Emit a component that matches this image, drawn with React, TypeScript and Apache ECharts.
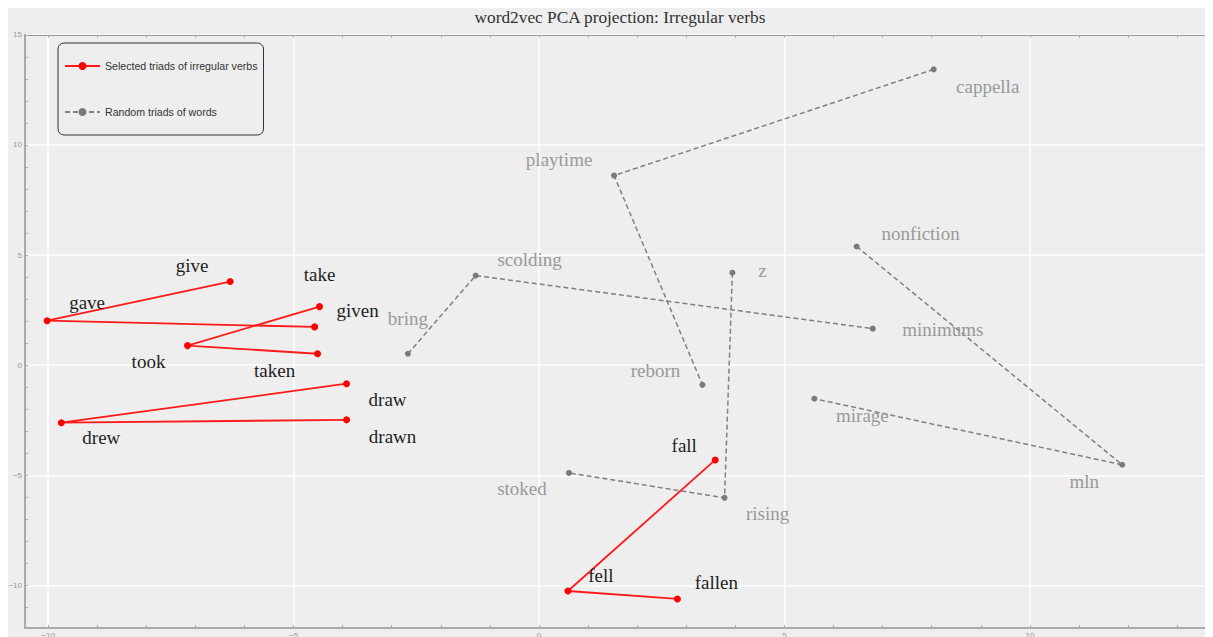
import React, { useEffect, useRef } from "react";
import * as echarts from "echarts";

const TITLE = "word2vec PCA projection: Irregular verbs";
const RED_NAME = "Selected triads of irregular verbs";
const GRAY_NAME = "Random triads of words";

// Selected triads of irregular verbs (drawn in listed order)
const verbWords = [
  ["give", "gave", "given"],
  ["take", "took", "taken"],
  ["draw", "drew", "drawn"],
  ["fall", "fell", "fallen"],
];
const verbX = [
  [-6.29, -10.02, -4.57],
  [-4.47, -7.16, -4.51],
  [-3.92, -9.73, -3.92],
  [3.59, 0.59, 2.82],
];
const verbY = [
  [3.8, 2.02, 1.74],
  [2.66, 0.89, 0.52],
  [-0.84, -2.61, -2.48],
  [-4.3, -10.25, -10.61],
];

// Random triads of words
const randomWords = [
  ["cappella", "playtime", "reborn"],
  ["bring", "scolding", "minimums"],
  ["z", "rising", "stoked"],
  ["nonfiction", "mln", "mirage"],
];
const randomX = [
  [8.04, 1.53, 3.33],
  [-2.67, -1.29, 6.8],
  [3.94, 3.78, 0.61],
  [6.47, 11.88, 5.61],
];
const randomY = [
  [13.43, 8.61, -0.89],
  [0.52, 4.07, 1.66],
  [4.2, -6.02, -4.89],
  [5.39, -4.52, -1.52],
];

// label placement (pixel offsets of label centre from its point)
const verbLabelOffsets = [
  [[-38, -16], [40, -18], [43, -16]],
  [[0, -32], [-39, 16], [-43, 17]],
  [[41, 16], [40, 15], [46, 17]],
  [[-31, -14], [33, -15], [39, -16]],
];
const randomLabelOffsets = [
  [[54, 17], [-55, -16], [-47, -14]],
  [[0, -35], [54, -16], [70, 1]],
  [[30, -2], [43, 16], [-47, 16]],
  [[64, -13], [-38, 17], [48, 17]],
];

const X_MIN = -10.47;
const X_MAX = 13.73;
const Y_MIN = -11.93;
const Y_MAX = 15;
const xMajorTicks = [-10, -5, 0, 5, 10];
const yMajorTicks = [-10, -5, 0, 5, 10, 15];
const xMinorTicks = [-10, -9, -8, -7, -6, -5, -4, -3, -2, -1, 0, 1, 2, 3, 4, 5, 6, 7, 8, 9, 10, 11, 12, 13];
const yMinorTicks = [-11, -10, -9, -8, -7, -6, -5, -4, -3, -2, -1, 0, 1, 2, 3, 4, 5, 6, 7, 8, 9, 10, 11, 12, 13, 14, 15];

const fmt = (v: number) => (v < 0 ? "\u2212" + Math.abs(v) : String(v));

const AXIS_COLOR = "#aaaaaa";
const TICK_LABEL = { color: "#999999", fontSize: 8, fontFamily: "Liberation Sans" };

export default function App() {
  const ref = useRef<HTMLDivElement>(null);

  useEffect(() => {
    document.body.style.overflow = "hidden";
    const chart = echarts.init(ref.current!, null, { renderer: "svg" });

    const redSeries = verbWords.map((words, i) => ({
      type: "line",
      name: RED_NAME,
      xAxisIndex: 0,
      yAxisIndex: 0,
      z: 3,
      symbol: "circle",
      symbolSize: 7,
      itemStyle: { color: "#ff0000" },
      lineStyle: { color: "#ff1a1a", width: 1.8 },
      label: {
        show: true,
        position: "inside",
        formatter: "{b}",
        color: "#1e1e1e",
        fontFamily: "Liberation Serif",
        fontSize: 19,
      },
      data: words.map((w, j) => ({
        name: w,
        value: [verbX[i][j], verbY[i][j]],
        label: { offset: verbLabelOffsets[i][j] },
      })),
    }));

    const graySeries = randomWords.map((words, i) => ({
      type: "line",
      name: GRAY_NAME,
      xAxisIndex: 0,
      yAxisIndex: 0,
      z: 2,
      symbol: "circle",
      symbolSize: 6,
      itemStyle: { color: "#7a7a7a" },
      lineStyle: { color: "#808080", width: 1.5, type: [5, 3] },
      label: {
        show: true,
        position: "inside",
        formatter: "{b}",
        color: "#999999",
        fontFamily: "Liberation Serif",
        fontSize: 19,
      },
      data: words.map((w, j) => ({
        name: w,
        value: [randomX[i][j], randomY[i][j]],
        label: { offset: randomLabelOffsets[i][j] },
      })),
    }));

    chart.setOption({
      animation: false,
      backgroundColor: "#eeeeee",
      title: {
        text: TITLE,
        left: 612,
        textAlign: "center",
        top: 1,
        padding: 0,
        textStyle: {
          fontFamily: "Liberation Serif",
          fontWeight: "normal",
          fontSize: 17.3,
          color: "#333333",
        },
      },
      legend: {
        orient: "vertical",
        left: 50,
        top: 35,
        padding: [16, 6, 16, 6],
        itemGap: 32,
        itemWidth: 35,
        itemHeight: 10,
        borderColor: "#333333",
        borderWidth: 1,
        borderRadius: 6,
        textStyle: { fontFamily: "Liberation Sans", fontSize: 10.6, color: "#333333", lineHeight: 14 },
        data: [{ name: RED_NAME }, { name: GRAY_NAME }],
      },
      grid: {
        left: 17,
        top: 26.8,
        right: 0,
        bottom: 20,
        containLabel: false,
        outerBoundsMode: "none",
      },
      xAxis: [
        {
          type: "value",
          position: "bottom",
          min: X_MIN,
          max: X_MAX,
          minInterval: 5,
          maxInterval: 5,
          z: 0,
          axisLine: { show: false },
          axisTick: { show: false },
          axisLabel: { ...TICK_LABEL, customValues: xMajorTicks, formatter: fmt, margin: 3 },
          splitLine: { show: true, lineStyle: { color: "#ffffff", width: 1.5 } },
        },
        {
          type: "value",
          position: "bottom",
          min: X_MIN,
          max: X_MAX,
          z: 1,
          axisLine: { show: true, onZero: false, lineStyle: { color: AXIS_COLOR, width: 2 } },
          axisTick: { show: true, inside: true, length: 3, customValues: xMinorTicks, lineStyle: { color: AXIS_COLOR } },
          axisLabel: { show: false },
          splitLine: { show: false },
        },
        {
          type: "value",
          position: "top",
          min: X_MIN,
          max: X_MAX,
          z: 1,
          axisLine: { show: true, onZero: false, lineStyle: { color: "#999999", width: 1.2 } },
          axisTick: { show: true, inside: true, length: 3, customValues: xMinorTicks, lineStyle: { color: AXIS_COLOR } },
          axisLabel: { show: false },
          splitLine: { show: false },
        },
      ],
      yAxis: [
        {
          type: "value",
          position: "left",
          min: Y_MIN,
          max: Y_MAX,
          minInterval: 5,
          maxInterval: 5,
          z: 0,
          axisLine: { show: false },
          axisTick: { show: false },
          axisLabel: { ...TICK_LABEL, customValues: yMajorTicks, formatter: fmt, margin: 3 },
          splitLine: { show: true, lineStyle: { color: "#ffffff", width: 1.5 } },
        },
        {
          type: "value",
          position: "left",
          min: Y_MIN,
          max: Y_MAX,
          z: 1,
          axisLine: { show: true, onZero: false, lineStyle: { color: AXIS_COLOR, width: 2 } },
          axisTick: { show: true, inside: true, length: 3, customValues: yMinorTicks, lineStyle: { color: AXIS_COLOR } },
          axisLabel: { show: false },
          splitLine: { show: false },
        },
      ],
      series: [...graySeries, ...redSeries],
    });

    return () => {
      chart.dispose();
    };
  }, []);

  return <div ref={ref} style={{ width: 1205, height: 640 }} />;
}
